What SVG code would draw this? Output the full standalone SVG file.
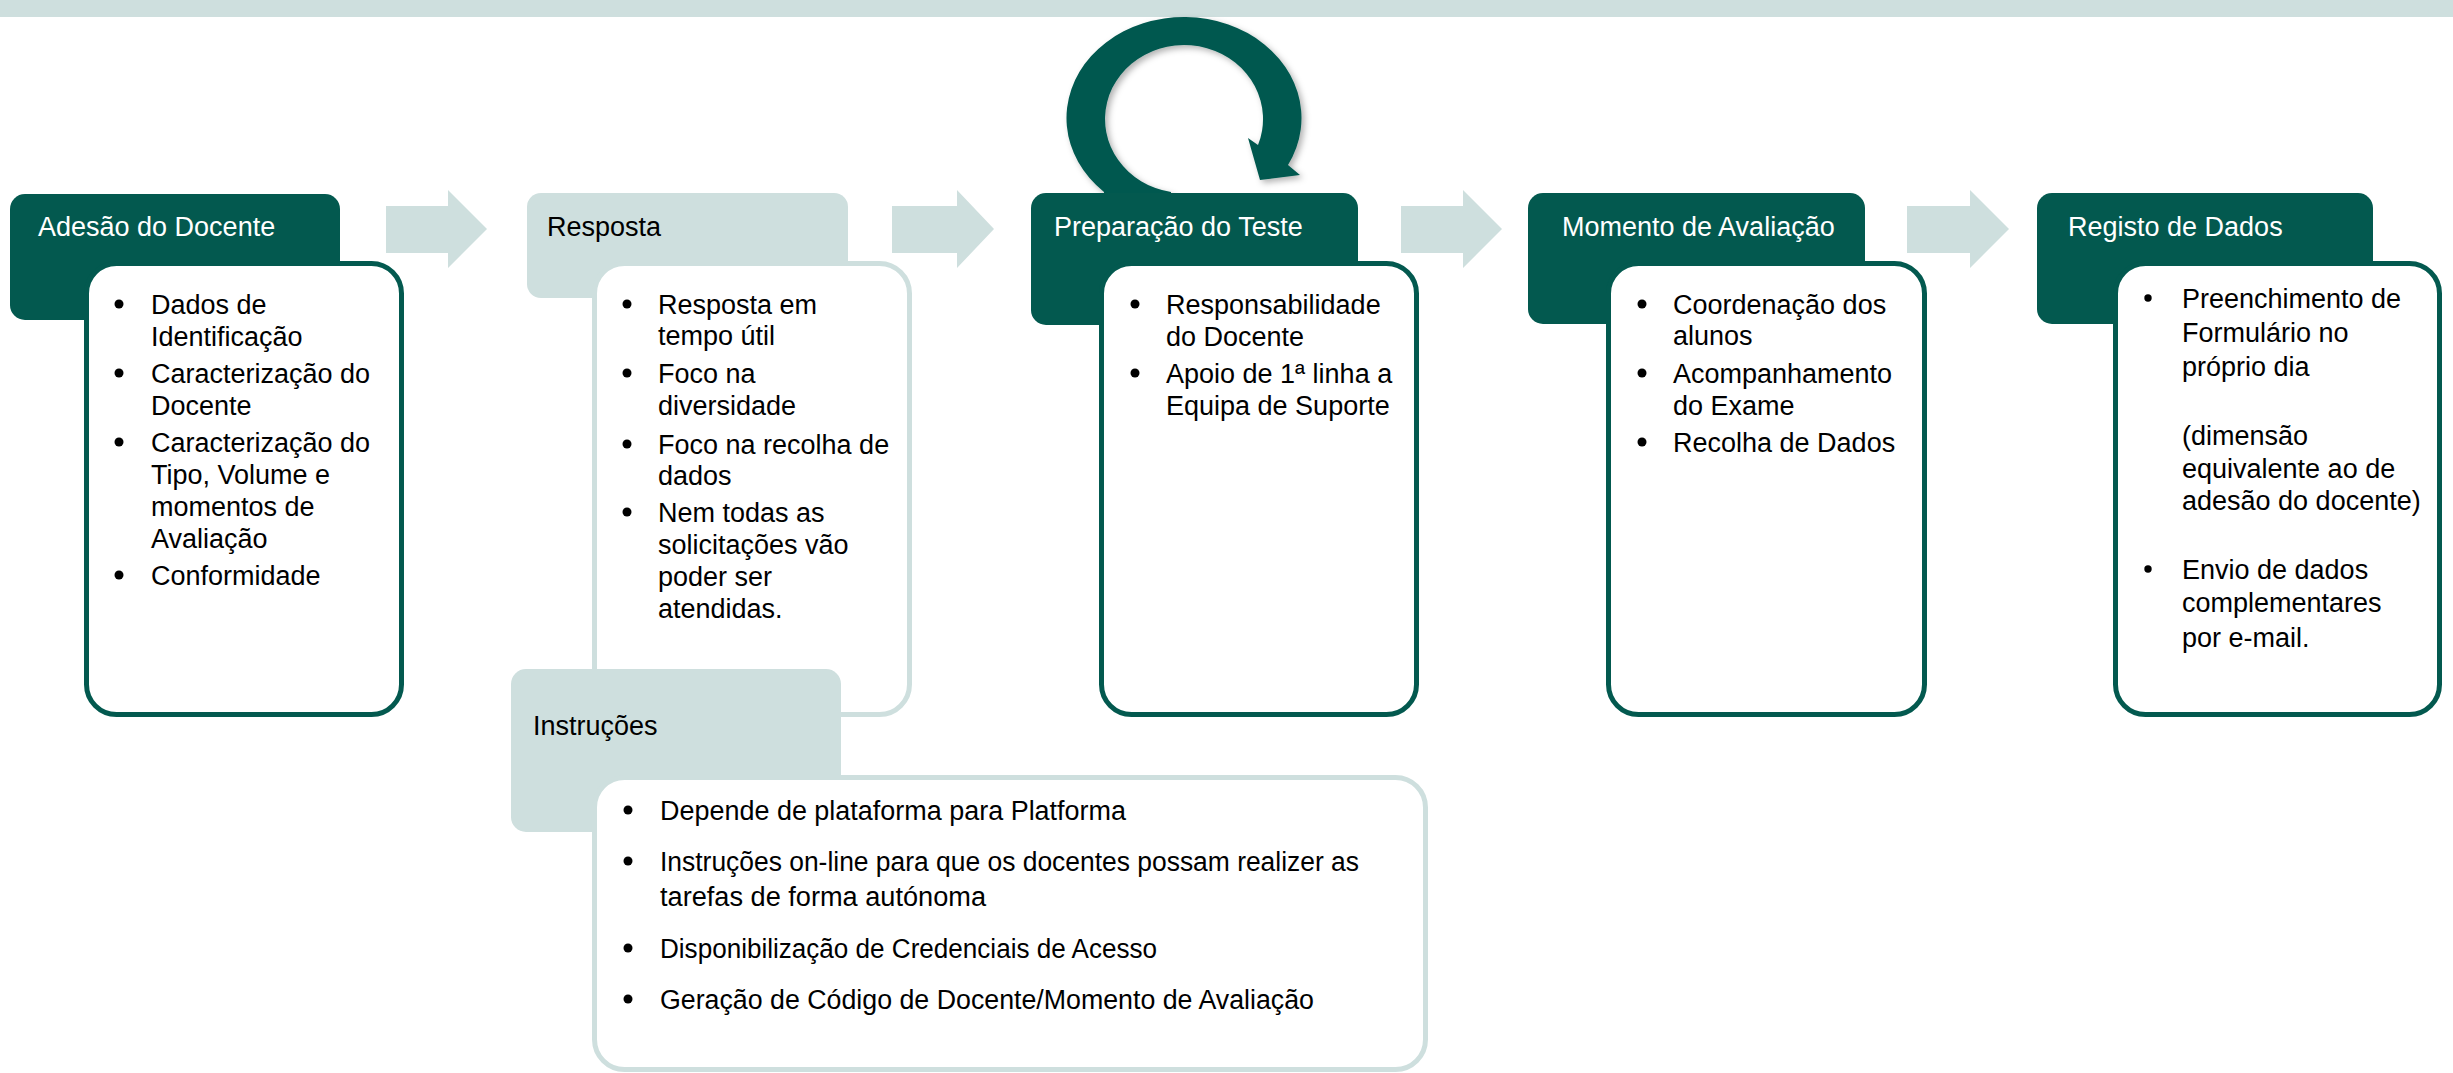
<svg xmlns="http://www.w3.org/2000/svg" width="2453" height="1073" viewBox="0 0 2453 1073">
  <style>
    .hd-dark { fill: #03594F; }
    .hd-light { fill: #CEDFDE; }
    .body-dark { fill: #FFFFFF; stroke: #03594F; stroke-width: 5; }
    .body-light { fill: #FFFFFF; stroke: #CEDFDE; stroke-width: 5; }
    .flow { fill: #CEDFDE; }
    text { font-family: "Liberation Sans", Arial, sans-serif; font-size: 27px; }
    .t-white { fill: #FFFFFF; }
    .t-dark { fill: #000000; }
    .bul { fill: #000000; }
  </style>
  <defs>
    <filter id="shadow" x="-20%" y="-20%" width="140%" height="140%">
      <feDropShadow dx="3" dy="3" stdDeviation="3" flood-color="#000000" flood-opacity="0.3"/>
    </filter>
  </defs>

  <rect x="0" y="0" width="2453" height="17" fill="#CEDFDE"/>

  <g id="connectors">
    <polygon class="flow" points="386,206 448,206 448,190 487,229 448,268 448,253 386,253"/>
    <polygon class="flow" points="892,206 957,206 957,190 994,229 957,268 957,253 892,253"/>
    <polygon class="flow" points="1401,206 1463,206 1463,190 1502,229 1463,268 1463,253 1401,253"/>
    <polygon class="flow" points="1907,206 1970,206 1970,190 2009,229 1970,268 1970,253 1907,253"/>
    <path id="loop" filter="url(#shadow)" fill="#03594F" d="M 1104 200 L 1104 192 A 117.5 101 0 1 1 1288 165 L 1300 175 L 1260 180 L 1248 138 L 1258 145 A 79 74 0 1 0 1171 192 L 1171 200 Z"/>
  </g>

  <g id="node-adesao">
    <rect class="hd-dark" x="10" y="194" width="330" height="126" rx="15"/>
    <text class="t-white" x="38" y="236">Adesão do Docente</text>
    <rect class="body-dark" x="86.5" y="263.5" width="315" height="451" rx="30"/>
    <g class="bul">
      <circle cx="119" cy="304" r="4.5"/>
      <circle cx="119" cy="373" r="4.5"/>
      <circle cx="119" cy="442" r="4.5"/>
      <circle cx="119" cy="575" r="4.5"/>
    </g>
    <text class="t-dark">
      <tspan x="151" y="314">Dados de</tspan>
      <tspan x="151" y="346">Identificação</tspan>
      <tspan x="151" y="383">Caracterização do</tspan>
      <tspan x="151" y="415">Docente</tspan>
      <tspan x="151" y="452">Caracterização do</tspan>
      <tspan x="151" y="484">Tipo, Volume e</tspan>
      <tspan x="151" y="516">momentos de</tspan>
      <tspan x="151" y="548">Avaliação</tspan>
      <tspan x="151" y="585">Conformidade</tspan>
    </text>
  </g>

  <g id="node-resposta">
    <rect class="hd-light" x="527" y="193" width="321" height="105" rx="14"/>
    <text class="t-dark" x="547" y="236">Resposta</text>
    <rect class="body-light" x="594.5" y="263.5" width="315" height="451" rx="30"/>
    <g class="bul">
      <circle cx="627" cy="304" r="4.5"/>
      <circle cx="627" cy="373" r="4.5"/>
      <circle cx="627" cy="444" r="4.5"/>
      <circle cx="627" cy="512" r="4.5"/>
    </g>
    <text class="t-dark">
      <tspan x="658" y="314">Resposta em</tspan>
      <tspan x="658" y="345">tempo útil</tspan>
      <tspan x="658" y="383">Foco na</tspan>
      <tspan x="658" y="415">diversidade</tspan>
      <tspan x="658" y="454">Foco na recolha de</tspan>
      <tspan x="658" y="485">dados</tspan>
      <tspan x="658" y="522">Nem todas as</tspan>
      <tspan x="658" y="554">solicitações vão</tspan>
      <tspan x="658" y="586">poder ser</tspan>
      <tspan x="658" y="618">atendidas.</tspan>
    </text>
  </g>

  <g id="node-instrucoes">
    <rect class="hd-light" x="511" y="669" width="330" height="163" rx="15"/>
    <text class="t-dark" x="533" y="735">Instruções</text>
    <rect class="body-light" x="594.5" y="777.5" width="831" height="292" rx="30"/>
    <g class="bul">
      <circle cx="628" cy="810" r="4.5"/>
      <circle cx="628" cy="861" r="4.5"/>
      <circle cx="628" cy="948" r="4.5"/>
      <circle cx="628" cy="999" r="4.5"/>
    </g>
    <g class="t-dark">
      <text x="660" y="820" textLength="466" lengthAdjust="spacingAndGlyphs">Depende de plataforma para Platforma</text>
      <text x="660" y="871" textLength="699" lengthAdjust="spacingAndGlyphs">Instruções on-line para que os docentes possam realizer as</text>
      <text x="660" y="906" textLength="326" lengthAdjust="spacingAndGlyphs">tarefas de forma autónoma</text>
      <text x="660" y="958" textLength="497" lengthAdjust="spacingAndGlyphs">Disponibilização de Credenciais de Acesso</text>
      <text x="660" y="1009" textLength="654" lengthAdjust="spacingAndGlyphs">Geração de Código de Docente/Momento de Avaliação</text>
    </g>
  </g>

  <g id="node-preparacao">
    <rect class="hd-dark" x="1031" y="193" width="327" height="132" rx="15"/>
    <text class="t-white" x="1054" y="236">Preparação do Teste</text>
    <rect class="body-dark" x="1101.5" y="263.5" width="315" height="451" rx="30"/>
    <g class="bul">
      <circle cx="1135" cy="304" r="4.5"/>
      <circle cx="1135" cy="373" r="4.5"/>
    </g>
    <text class="t-dark">
      <tspan x="1166" y="314">Responsabilidade</tspan>
      <tspan x="1166" y="346">do Docente</tspan>
      <tspan x="1166" y="383">Apoio de 1ª linha a</tspan>
      <tspan x="1166" y="415">Equipa de Suporte</tspan>
    </text>
  </g>

  <g id="node-momento">
    <rect class="hd-dark" x="1528" y="193" width="337" height="131" rx="15"/>
    <text class="t-white" x="1562" y="236">Momento de Avaliação</text>
    <rect class="body-dark" x="1608.5" y="263.5" width="316" height="451" rx="30"/>
    <g class="bul">
      <circle cx="1642" cy="304" r="4.5"/>
      <circle cx="1642" cy="373" r="4.5"/>
      <circle cx="1642" cy="442" r="4.5"/>
    </g>
    <text class="t-dark">
      <tspan x="1673" y="314">Coordenação dos</tspan>
      <tspan x="1673" y="345">alunos</tspan>
      <tspan x="1673" y="383">Acompanhamento</tspan>
      <tspan x="1673" y="415">do Exame</tspan>
      <tspan x="1673" y="452">Recolha de Dados</tspan>
    </text>
  </g>

  <g id="node-registo">
    <rect class="hd-dark" x="2037" y="193" width="336" height="131" rx="15"/>
    <text class="t-white" x="2068" y="236">Registo de Dados</text>
    <rect class="body-dark" x="2115.5" y="263.5" width="324" height="451" rx="30"/>
    <g class="bul">
      <circle cx="2148" cy="298" r="3.7"/>
      <circle cx="2148" cy="569" r="3.7"/>
    </g>
    <text class="t-dark">
      <tspan x="2182" y="308">Preenchimento de</tspan>
      <tspan x="2182" y="342">Formulário no</tspan>
      <tspan x="2182" y="376">próprio dia</tspan>
      <tspan x="2182" y="445">(dimensão</tspan>
      <tspan x="2182" y="478">equivalente ao de</tspan>
      <tspan x="2182" y="510">adesão do docente)</tspan>
      <tspan x="2182" y="579">Envio de dados</tspan>
      <tspan x="2182" y="612">complementares</tspan>
      <tspan x="2182" y="647">por e-mail.</tspan>
    </text>
  </g>
</svg>
